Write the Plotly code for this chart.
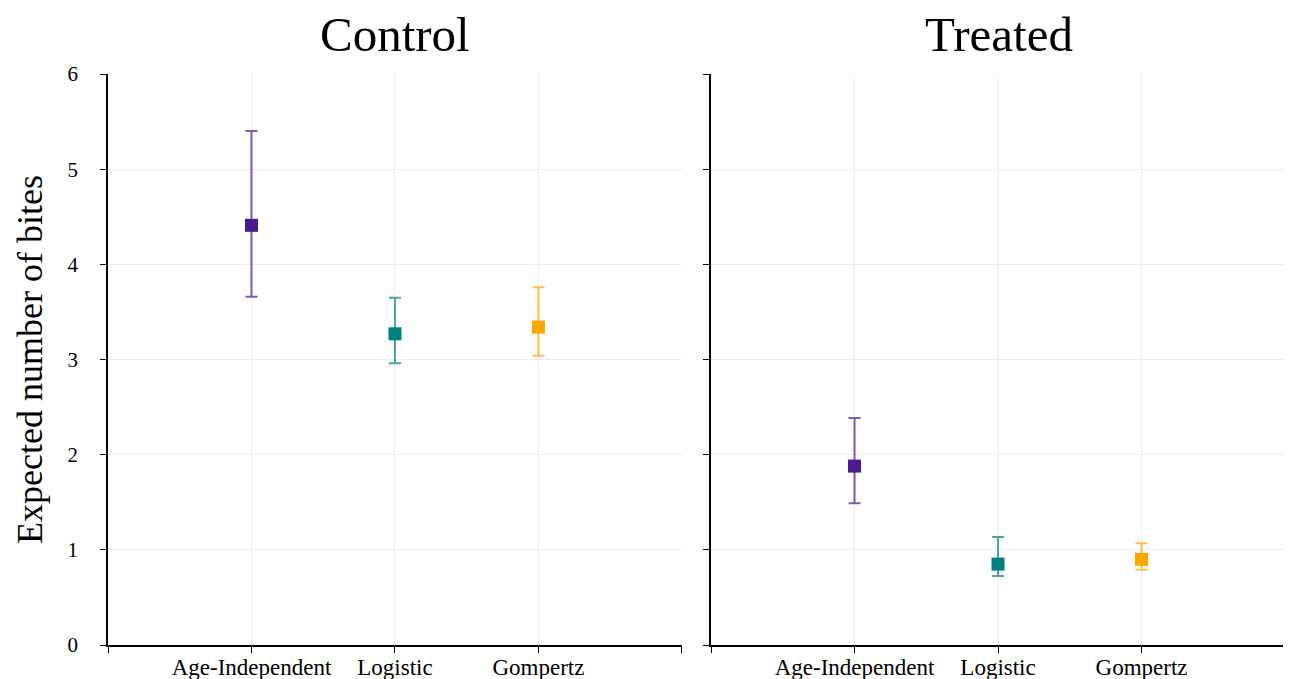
import plotly.graph_objects as go
from plotly.subplots import make_subplots

models = ["Age-Independent", "Logistic", "Gompertz"]
model_pos = [1, 2, 3]
colors = ["#4B1A8C", "#008080", "#FFA500"]
err_colors = ["rgba(75,26,140,0.7)", "rgba(0,128,128,0.7)", "rgba(255,165,0,0.7)"]

control_mean = [4.41, 3.27, 3.34]
control_upper = [5.40, 3.65, 3.76]
control_lower = [3.66, 2.96, 3.04]

treated_mean = [1.88, 0.85, 0.90]
treated_upper = [2.385, 1.135, 1.07]
treated_lower = [1.49, 0.725, 0.79]

groups = [("Control", control_mean, control_upper, control_lower),
          ("Treated", treated_mean, treated_upper, treated_lower)]

fig = make_subplots(rows=1, cols=2, horizontal_spacing=0.0247)

for ci, (name, mean, up, lo) in enumerate(groups, start=1):
    for i in range(3):
        fig.add_trace(go.Scatter(
            x=[model_pos[i]], y=[mean[i]], mode="markers",
            marker=dict(symbol="square", size=13, color=colors[i]),
            error_y=dict(type="data", symmetric=False,
                         array=[up[i] - mean[i]], arrayminus=[mean[i] - lo[i]],
                         color=err_colors[i], thickness=2, width=6),
            showlegend=False, name=models[i]), row=1, col=ci)

font_family = "Liberation Serif, Times New Roman, serif"
for ci in (1, 2):
    fig.update_xaxes(range=[0, 4], tickmode="array", tickvals=[0, 1, 2, 3, 4],
                     ticktext=["", models[0], models[1], models[2], ""],
                     showline=True, linecolor="black", linewidth=1.5,
                     ticks="outside", ticklen=6, tickcolor="black",
                     showgrid=True, gridcolor="#ececec", zeroline=False,
                     tickfont=dict(family=font_family, size=23, color="black"),
                     ticklabelstandoff=-5,
                     automargin=False,
                     row=1, col=ci)
    fig.update_yaxes(range=[0, 6], tickvals=[0, 1, 2, 3, 4, 5, 6],
                     showline=True, linecolor="black", linewidth=1.5,
                     ticks="outside", ticklen=6, tickcolor="black",
                     showgrid=True, gridcolor="#ececec", zeroline=False,
                     tickfont=dict(family=font_family, size=21, color="black"),
                     ticklabelstandoff=18,
                     showticklabels=(ci == 1), automargin=False,
                     row=1, col=ci)

fig.update_yaxes(title=dict(text="Expected number of bites",
                            font=dict(family=font_family, size=36, color="black"),
                            standoff=14), row=1, col=1)

fig.update_layout(
    width=1291, height=679,
    margin=dict(l=100, r=14, t=66, b=42),
    plot_bgcolor="white", paper_bgcolor="white",
    annotations=[
        dict(text="Control", x=0.244, xref="paper", y=1.07, yref="paper",
             showarrow=False, xanchor="center", yanchor="middle",
             font=dict(family=font_family, size=49, color="black")),
        dict(text="Treated", x=0.757, xref="paper", y=1.07, yref="paper",
             showarrow=False, xanchor="center", yanchor="middle",
             font=dict(family=font_family, size=49, color="black")),
    ],
)

fig.write_html("out.html")
